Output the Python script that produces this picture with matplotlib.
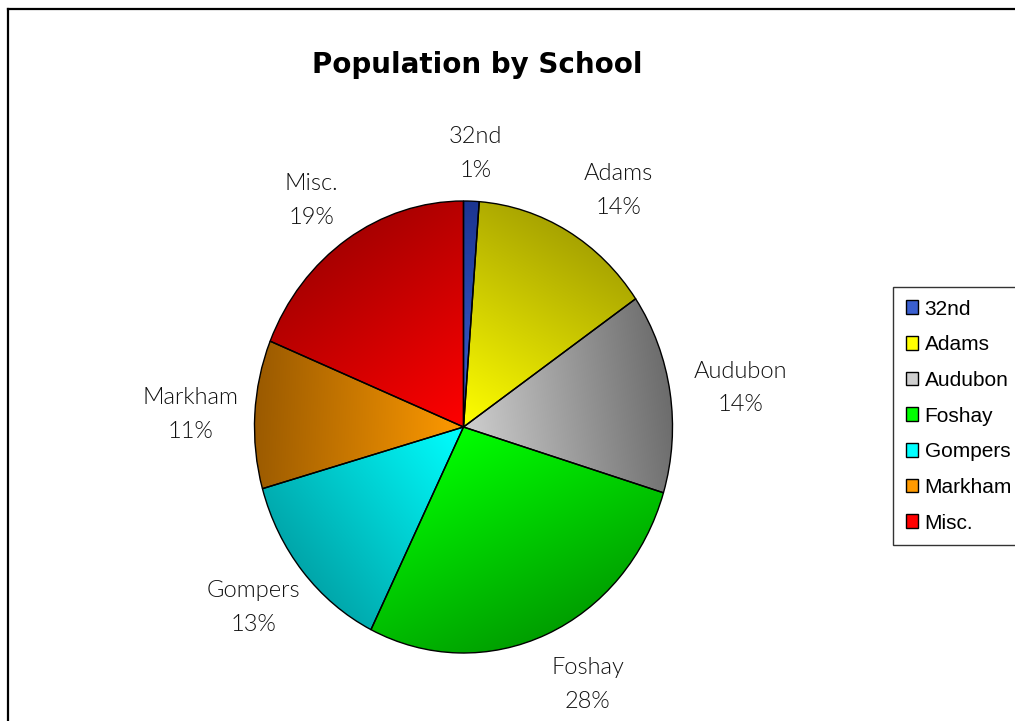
import numpy as np
import matplotlib
matplotlib.use("Agg")
import matplotlib.pyplot as plt
from matplotlib.patches import Rectangle
from matplotlib.lines import Line2D

# ---- data ----
categories = ["32nd", "Adams", "Audubon", "Foshay", "Gompers", "Markham", "Misc."]
values = [1.2, 14.2, 14.3, 27.6, 13.3, 10.6, 18.8]
light_colors = ["#3a5fd0", "#ffff00", "#cfcfcf", "#00ff00", "#00ffff", "#ff9a00", "#ff0000"]
dark_colors = ["#1c3590", "#a8a400", "#6c6c6c", "#009f00", "#00a6aa", "#9a5a00", "#a80000"]
title = "Population by School"

W, H = 1015, 721
fig = plt.figure(figsize=(W / 100, H / 100), dpi=100)
fig.patch.set_facecolor("white")

# pie geometry (pixels)
cx, cy = 463.5, 427.0
rx, ry = 209.0, 226.0

ax = fig.add_axes([0, 0, 1, 1])
wedges, _ = ax.pie(values, startangle=90, counterclock=False,
                   wedgeprops=dict(edgecolor="black", linewidth=1.0))
ax.set_aspect("auto")
ax.axis("off")


def hex2rgb(h):
    h = h.lstrip("#")
    return np.array([int(h[i:i + 2], 16) / 255 for i in (0, 2, 4)])


# gradient fill per wedge
n = 400
xs = np.linspace(-1.02, 1.02, n)
ys = np.linspace(-1.02, 1.02, n)
X, Y = np.meshgrid(xs, ys)
total = sum(values)
cum = 0.0
mids = []
for w, v, lc, dc in zip(wedges, values, light_colors, dark_colors):
    mid = (cum + v / 2) / total * 2 * np.pi
    mids.append(mid)
    cum += v
    ux, uy = np.sin(mid), np.cos(mid)
    t = np.clip(X * ux + Y * uy, 0, 1)
    c0, c1 = hex2rgb(lc), hex2rgb(dc)
    img = c0[None, None, :] * (1 - t[..., None]) + c1[None, None, :] * t[..., None]
    im = ax.imshow(img, extent=(-1.02, 1.02, -1.02, 1.02), origin="lower",
                   interpolation="bilinear", zorder=1, aspect="auto")
    im.set_clip_path(w)
    w.set_facecolor("none")
    w.set_zorder(2)

ax.set_xlim(-cx / rx, (W - cx) / rx)
ax.set_ylim(-(H - cy) / ry, cy / ry)

# labels
label_font = ["Lato", "DejaVu Sans"]
for cat, v, mid in zip(categories, values, mids):
    pct = round(v / total * 100)
    s, c = np.sin(mid), np.cos(mid)
    kx = 1.31 + (0.2 * abs(c) if s > 0 else 0.0)
    ax.text(kx * s, 1.225 * c - 0.015, f"{cat}\n{pct}%",
            ha="center", va="center", fontsize=17, family=label_font,
            fontweight=300, linespacing=1.75, color="#111111", zorder=5)

# title
fig.text(477 / W, 1 - 65 / H, title, ha="center", va="center",
         fontsize=20, fontweight="bold", family="DejaVu Sans")

# legend
handles = [Rectangle((0, 0), 1, 1, facecolor=c, edgecolor="black", linewidth=1.0)
           for c in light_colors]
leg = fig.legend(handles, categories, loc="upper left",
                 bbox_to_anchor=(893 / W, 1 - 287 / H),
                 prop=dict(family="Liberation Sans", size=15),
                 frameon=True, fancybox=False, shadow=False,
                 borderaxespad=0, borderpad=0.6, labelspacing=0.8,
                 handlelength=0.62, handleheight=0.62, handletextpad=0.3)
leg.get_frame().set_edgecolor("black")
leg.get_frame().set_linewidth(1.0)

# outer chart frame (partially cropped)
fig.add_artist(Line2D([8 / W, 8 / W], [0, 1 - 9 / H], transform=fig.transFigure,
                      color="black", linewidth=1.6))
fig.add_artist(Line2D([8 / W, 1], [1 - 9 / H, 1 - 9 / H], transform=fig.transFigure,
                      color="black", linewidth=1.6))

fig.savefig("out.png", dpi=100, facecolor="white")
